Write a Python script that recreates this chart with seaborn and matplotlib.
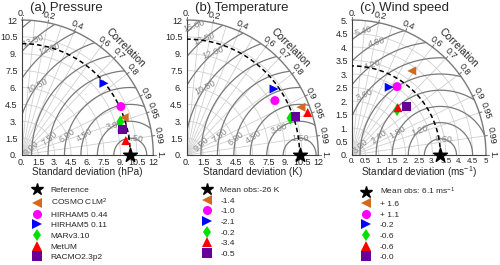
import numpy as np
import pandas as pd
import matplotlib
matplotlib.use("Agg")
import matplotlib.pyplot as plt
from matplotlib.lines import Line2D
import seaborn as sns

sns.set_style("white")
plt.rcParams["font.family"] = ["Liberation Sans", "DejaVu Sans"]
plt.rcParams["mathtext.default"] = "regular"

# ---- data ---------------------------------------------------------------
MODELS  = ["COSMO CLM$^2$", "HIRHAM5 0.44", "HIRHAM5 0.11", "MARv3.10", "MetUM", "RACMO2.3p2"]
MARKERS = ["<", "o", ">", "d", "^", "s"]
COLORS  = ["#D2691E", "#FF00FF", "#0000FF", "#00E000", "#FF0000", "#660099"]

# (a) pressure
P_REF    = 9.9
P_STD    = [9.92, 10.02, 9.84, 9.46, 9.58, 9.48]
P_CORR   = [0.942, 0.903, 0.762, 0.950, 0.991, 0.971]
P_LEGEND = ["Reference"] + MODELS

# (b) temperature
T_REF    = 10.3
T_STD    = [11.25, 9.39, 9.89, 10.00, 11.66, 10.53]
T_CORR   = [0.926, 0.857, 0.805, 0.945, 0.946, 0.946]
T_LEGEND = ["Mean obs:-26 K", "-1.4", "-1.0", "-2.1", "-0.2", "-3.4", "-0.5"]

# (c) wind speed
W_REF    = 3.3
W_STD    = [3.83, 3.04, 2.87, 2.37, 2.45, 2.71]
W_CORR   = [0.582, 0.553, 0.484, 0.709, 0.699, 0.745]
W_LEGEND = ["Mean obs: 6.1 ms$^{-1}$", "+ 1.6", "+ 1.1", "-0.2", "-0.6", "-0.6", "-0.0"]

CORR_TICKS  = [0.0, 0.2, 0.4, 0.6, 0.7, 0.8, 0.9, 0.95, 0.99, 1.0]
CORR_LABELS = ["0.", "0.2", "0.4", "0.6", "0.7", "0.8", "0.9", "0.95", "0.99", "1."]
CORR_GRID   = [0.1, 0.2, 0.3, 0.4, 0.5, 0.6, 0.7, 0.8, 0.9, 0.95, 0.99]

BIG_TICKS    = [0, 1.5, 3, 4.5, 6, 7.5, 9, 10.5, 12]
BIG_LABELS   = ["0.", "1.5", "3.", "4.5", "6.", "7.5", "9.", "10.5", "12"]
SMALL_TICKS  = [0, 0.5, 1, 1.5, 2, 2.5, 3, 3.5, 4, 4.5, 5]
SMALL_XLAB   = ["0.", "0.5", "1.", "1.5", "2.", "2.5", "3.", "3.5", "4.", "4.5", "5"]
SMALL_YLAB   = ["0.", "0.5", "1.", "1.5", "2.", "2.5", "3.", "3.5", "4.", "4.5", "5."]

# where the RMS contour labels sit (angle around the reference point, deg)
P_RMS_ANG = {1.5: 76, 3.0: 119, 4.5: 157, 6.0: 163, 7.5: 169, 9.0: 176, 10.5: 144, 12.0: 128, 13.5: 131}
T_RMS_ANG = {1.5: 89, 3.0: 129, 4.5: 159, 6.0: 166, 7.5: 167, 9.0: 174, 10.5: 145, 12.0: 131, 13.5: 130, 15.0: 130}
W_RMS_ANG = {0.6: 79, 1.2: 130, 1.8: 152, 2.4: 164, 3.0: 174, 3.6: 142, 4.2: 127, 4.8: 120, 5.4: 122}

LIGHT = "#d0d0d0"
DARK = "#7a7a7a"


def taylor(fig, rect, title, unit, ref, std, corr, legend_labels, rmax, step, rms_step,
           ticks, xlab, ylab, rms_ang, leg_x, xfs=6.5):
    ax = fig.add_axes(rect)
    th = np.linspace(0, np.pi / 2, 300)

    # std-dev arcs and correlation rays
    for r in np.arange(step, rmax - 1e-6, step):
        ax.plot(r * np.cos(th), r * np.sin(th), color=LIGHT, lw=0.6, zorder=1)
    for c in CORR_GRID:
        a = np.arccos(c)
        ax.plot([0, rmax * np.cos(a)], [0, rmax * np.sin(a)], color=LIGHT, lw=0.6, zorder=1)

    # outer arc + correlation labels
    ax.plot(rmax * np.cos(th), rmax * np.sin(th), color=DARK, lw=1.0, zorder=2, clip_on=False)
    for c, lab in zip(CORR_TICKS, CORR_LABELS):
        a = np.arccos(c)
        ax.plot([rmax * np.cos(a), 1.02 * rmax * np.cos(a)],
                [rmax * np.sin(a), 1.02 * rmax * np.sin(a)], color=DARK, lw=0.8, clip_on=False)
        ax.text(1.05 * rmax * np.cos(a), 1.05 * rmax * np.sin(a), lab, fontsize=6.5,
                rotation=np.degrees(a) - 90, ha="center", va="center",
                rotation_mode="anchor", clip_on=False)
    a = np.radians(45)
    ax.text(1.12 * rmax * np.cos(a), 1.12 * rmax * np.sin(a), "Correlation", fontsize=7.5,
            rotation=-45, ha="center", va="center", rotation_mode="anchor")

    # centred RMS difference contours
    phi = np.linspace(0, np.pi, 600)
    r = rms_step
    while r < np.hypot(ref, rmax):
        x = ref + r * np.cos(phi)
        y = r * np.sin(phi)
        out = (x ** 2 + y ** 2 > rmax ** 2) | (x < 0)
        x[out] = np.nan
        ax.plot(x, y, color=DARK, lw=0.9, zorder=2)
        key = round(r, 2)
        if key in rms_ang:
            g = np.radians(rms_ang[key])
            ax.text(ref + r * np.cos(g), r * np.sin(g), f"{r:.2f}", color="#8a8a8a",
                    fontsize=6.5, ha="center", va="center",
                    rotation=0.5 * (rms_ang[key] - 90), zorder=3)
        r += rms_step

    # reference std-dev arc
    ax.plot(ref * np.cos(th), ref * np.sin(th), color="k", lw=1.1, ls=(0, (3, 2)), zorder=3)

    # model points
    df = pd.DataFrame({"model": MODELS, "std": std, "corr": corr})
    df["x"] = df["std"] * df["corr"]
    df["y"] = df["std"] * np.sqrt(1 - df["corr"] ** 2)
    sns.scatterplot(data=df, x="x", y="y", hue="model", style="model",
                    palette=dict(zip(MODELS, COLORS)), markers=dict(zip(MODELS, MARKERS)),
                    s=42, linewidth=0, legend=False, ax=ax, zorder=5)
    ax.scatter([ref], [0], marker="*", s=110, color="k", zorder=6, clip_on=False)

    ax.set_xlim(0, rmax)
    ax.set_ylim(0, rmax)
    ax.set_xticks(ticks)
    ax.set_xticklabels(xlab)
    ax.set_yticks(ticks)
    ax.set_yticklabels(ylab)
    ax.tick_params(axis="both", direction="in", length=3, width=0.6, labelsize=6.5,
                   color="#404040")
    ax.tick_params(axis="x", pad=2.5, labelsize=xfs)
    ax.tick_params(axis="y", pad=3)
    ax.set_xlabel("")
    ax.set_ylabel("")
    for s in ["top", "right"]:
        ax.spines[s].set_visible(False)
    for s in ["left", "bottom"]:
        ax.spines[s].set_color("#404040")
        ax.spines[s].set_linewidth(0.8)

    ax.text(0.06, 1.09, title, transform=ax.transAxes, fontsize=9.5, va="center", ha="left")
    ax.text(0.5, -0.126, f"Standard deviation ({unit})", transform=ax.transAxes,
            fontsize=7.2, ha="center", va="center")

    handles = [Line2D([], [], marker="*", color="k", ls="none", markersize=9)]
    for m, c in zip(MARKERS, COLORS):
        handles.append(Line2D([], [], marker=m, color=c, ls="none", markersize=6.5, mew=0))
    ax.legend(handles, legend_labels, loc="upper left", bbox_to_anchor=(leg_x, 0.298),
              bbox_transform=fig.transFigure, frameon=False, fontsize=6,
              handlelength=1.0, handletextpad=1.15, labelspacing=0.34,
              borderpad=0, borderaxespad=0)
    return ax


fig = plt.figure(figsize=(5, 2.65), dpi=100)

taylor(fig, [0.0434, 0.4151, 0.2632, 0.5094], "(a) Pressure", "hPa", P_REF, P_STD, P_CORR,
       P_LEGEND, 12, 1.5, 1.5, BIG_TICKS, BIG_LABELS, BIG_LABELS, P_RMS_ANG, 0.0656)
taylor(fig, [0.3734, 0.4151, 0.2632, 0.5094], "(b) Temperature", "K", T_REF, T_STD, T_CORR,
       T_LEGEND, 12, 1.5, 1.5, BIG_TICKS, BIG_LABELS, BIG_LABELS, T_RMS_ANG, 0.405)
taylor(fig, [0.704, 0.4151, 0.268, 0.5094], "(c) Wind speed", "ms$^{-1}$", W_REF, W_STD, W_CORR,
       W_LEGEND, 5, 0.5, 0.6, SMALL_TICKS, SMALL_XLAB, SMALL_YLAB, W_RMS_ANG, 0.7236, xfs=5.8)

fig.savefig("out.png", dpi=100)
